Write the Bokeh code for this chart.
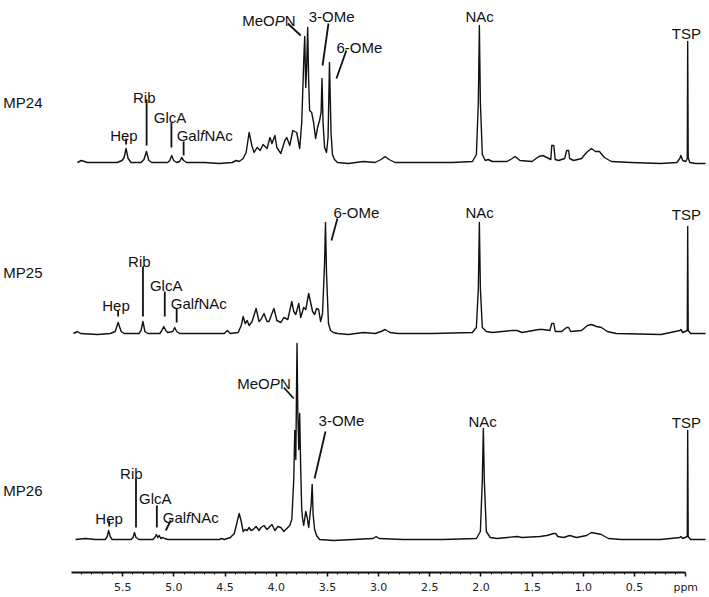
from bokeh.plotting import figure
from bokeh.models import Range1d, FixedTicker, Label, LinearAxis
from bokeh.embed import file_html
from bokeh.resources import INLINE

# ---------------- data ----------------
samples = ["MP24", "MP25", "MP26"]

mp24_ppm = [5.942, 5.903, 5.874, 5.845, 5.670, 5.554, 5.506, 5.486, 5.467, 5.447, 5.418,
            5.321, 5.292, 5.268, 5.244, 5.215, 5.060, 5.040, 5.021, 5.002, 4.973, 4.943,
            4.924, 4.905, 4.876, 4.701, 4.556, 4.430, 4.391, 4.362, 4.323, 4.294, 4.265,
            4.236, 4.216, 4.187, 4.158, 4.129, 4.090, 4.061, 4.042, 4.013, 3.994, 3.955,
            3.916, 3.897, 3.868, 3.838, 3.800, 3.771, 3.751, 3.732, 3.722, 3.712, 3.703,
            3.693, 3.683, 3.674, 3.654, 3.635, 3.616, 3.596, 3.577, 3.562, 3.553, 3.543,
            3.528, 3.509, 3.494, 3.480, 3.465, 3.451, 3.431, 3.402, 3.296, 3.150, 3.034,
            2.976, 2.937, 2.898, 2.840, 2.569, 2.278, 2.084, 2.045, 2.026, 2.016, 2.006,
            1.987, 1.958, 1.929, 1.890, 1.745, 1.696, 1.667, 1.619, 1.502, 1.435, 1.396,
            1.357, 1.318, 1.309, 1.289, 1.275, 1.241, 1.183, 1.163, 1.144, 1.134, 1.095,
            1.018, 0.969, 0.921, 0.882, 0.843, 0.795, 0.727, 0.533, 0.242, 0.087, 0.058,
            0.048, 0.029, 0.000, -0.015, -0.019, -0.024, -0.039, -0.097, -0.194]
mp24_int = [0, 2, 1, 0, 0, 0, 2, 5, 14, 4, 0,
            0, 3, 11, 2, 0, 0, 2, 7, 2, 0, 1,
            5, 2, 0, 0, -1, 0, 2, 1, 4, 10, 30,
            16, 10, 15, 12, 18, 14, 25, 19, 27, 15, 9,
            22, 25, 17, 32, 30, 14, 40, 100, 126, 75, 95,
            135, 80, 52, 50, 40, 24, 35, 42, 50, 84, 40,
            15, 10, 25, 100, 30, 8, 3, 0, -1, 1, 0,
            3, 6, 3, 0, 0, 0, 1, 8, 60, 137, 60,
            8, 2, 3, 1, 1, 4, 6, 2, 1, 6, 7,
            5, 3, 17, 17, 3, 2, 4, 12, 12, 4, 2,
            4, 10, 14, 11, 11, 5, 1, 0, -1, 0, 4,
            7, 2, 1, 4, 121, 5, 0, -1, -1]

mp25_ppm = [5.981, 5.942, 5.913, 5.748, 5.622, 5.573, 5.544, 5.515, 5.486, 5.341, 5.321,
            5.302, 5.283, 5.254, 5.137, 5.118, 5.099, 5.079, 5.060, 5.011, 4.992, 4.973,
            4.943, 4.701, 4.507, 4.478, 4.449, 4.372, 4.342, 4.323, 4.304, 4.284, 4.265,
            4.236, 4.197, 4.168, 4.149, 4.120, 4.090, 4.071, 4.042, 4.023, 3.994, 3.955,
            3.926, 3.887, 3.848, 3.829, 3.809, 3.780, 3.761, 3.732, 3.712, 3.683, 3.664,
            3.645, 3.625, 3.606, 3.586, 3.567, 3.548, 3.528, 3.519, 3.509, 3.490, 3.470,
            3.441, 3.402, 3.296, 3.150, 3.034, 2.976, 2.937, 2.889, 2.811, 2.472, 2.084,
            2.045, 2.026, 2.016, 2.006, 1.987, 1.948, 1.890, 1.696, 1.648, 1.599, 1.435,
            1.396, 1.328, 1.309, 1.289, 1.275, 1.212, 1.163, 1.144, 1.124, 1.018, 0.960,
            0.921, 0.872, 0.824, 0.766, 0.679, 0.242, 0.058, 0.048, 0.029, -0.015, -0.019,
            -0.024, -0.048, -0.194]
mp25_int = [0, 2, 0, -1, 0, 2, 11, 2, 0, 0, 3,
            12, 2, 0, 0, 3, 7, 3, 1, 2, 6, 2,
            0, 0, 0, 3, 0, 1, 8, 17, 10, 13, 8,
            12, 25, 12, 14, 20, 12, 12, 20, 25, 13, 11,
            16, 14, 32, 22, 19, 30, 16, 26, 24, 40, 31,
            22, 19, 25, 24, 12, 20, 70, 111, 60, 10, 3,
            1, 0, -1, 1, 0, 2, 4, 1, 0, 0, 1,
            6, 45, 111, 45, 6, 2, 1, 3, 3, 1, 4,
            4, 3, 10, 10, 2, 2, 6, 6, 2, 3, 8,
            9, 7, 6, 2, 0, -1, 3, 4, 1, 3, 107,
            3, 0, 0]

mp26_ppm = [5.961, 5.864, 5.767, 5.670, 5.651, 5.637, 5.622, 5.603, 5.418, 5.399, 5.385,
            5.370, 5.341, 5.205, 5.186, 5.171, 5.157, 5.142, 5.128, 5.108, 5.089, 5.060,
            4.701, 4.556, 4.536, 4.507, 4.449, 4.410, 4.381, 4.362, 4.342, 4.323, 4.304,
            4.284, 4.265, 4.246, 4.226, 4.197, 4.168, 4.149, 4.120, 4.090, 4.071, 4.042,
            4.013, 3.984, 3.955, 3.926, 3.897, 3.868, 3.848, 3.829, 3.819, 3.809, 3.803,
            3.797, 3.790, 3.780, 3.771, 3.761, 3.751, 3.742, 3.732, 3.712, 3.698, 3.683,
            3.669, 3.659, 3.649, 3.640, 3.625, 3.606, 3.577, 3.441, 3.247, 3.053, 3.024,
            2.995, 2.763, 2.375, 2.045, 2.006, 1.987, 1.977, 1.968, 1.948, 1.910, 1.842,
            1.648, 1.599, 1.425, 1.357, 1.289, 1.270, 1.250, 1.192, 1.134, 1.066, 0.969,
            0.921, 0.872, 0.824, 0.756, 0.630, 0.242, 0.058, 0.048, 0.029, -0.015, -0.019,
            -0.024, -0.048, -0.194]
mp26_int = [0, 1, 0, 0, 3, 9, 3, 0, 0, 2, 7,
            2, 0, 0, 2, 5, 2, 4, 1, 2, 1, 0,
            0, 0, 1, 0, 2, 6, 18, 26, 18, 8, 10,
            9, 12, 9, 10, 13, 9, 12, 14, 10, 12, 15,
            9, 13, 12, 8, 11, 14, 20, 60, 109, 80, 140,
            196, 130, 90, 126, 70, 30, 20, 14, 28, 22, 12,
            26, 35, 55, 25, 10, 4, 0, -1, 0, 1, 3,
            1, 0, 0, 1, 8, 60, 111, 60, 8, 2, 1,
            3, 2, 3, 4, 6, 6, 3, 2, 4, 2, 4,
            7, 6, 5, 1, 0, 0, 2, 3, 1, 3, 109,
            3, 0, 0]

tick_values = [5.5, 5.0, 4.5, 4.0, 3.5, 3.0, 2.5, 2.0, 1.5, 1.0, 0.5, 0.0]
tick_labels = ["5.5", "5.0", "4.5", "4.0", "3.5", "3.0", "2.5", "2.0", "1.5", "1.0", "0.5", "ppm"]

# ---------------- layout ----------------
W, H = 709, 597
LEFT = 66
FRAME_H = 572
PPM_LEFT, PPM_RIGHT = 6.0, -0.232
offsets = {"MP24": 410, "MP25": 239, "MP26": 33}
name_y = {"MP24": 470, "MP25": 300, "MP26": 82}
INK = "#111111"
FONT = "Liberation Sans"
FS = "15px"


def X(img_x):
    return PPM_LEFT - (img_x - LEFT) * (PPM_LEFT - PPM_RIGHT) / (W - LEFT)


def Y(img_y):
    return FRAME_H - img_y


p = figure(width=W, height=H, output_backend="svg", toolbar_location=None,
           x_range=Range1d(PPM_LEFT, PPM_RIGHT), y_range=Range1d(0, FRAME_H),
           y_axis_location=None, min_border_left=LEFT, min_border_right=0,
           min_border_top=0, min_border_bottom=H - FRAME_H)
p.outline_line_color = None
p.grid.visible = False
p.background_fill_color = "white"
p.border_fill_color = "white"

series = {"MP24": (mp24_ppm, mp24_int), "MP25": (mp25_ppm, mp25_int), "MP26": (mp26_ppm, mp26_int)}
for name in samples:
    ppm, inten = series[name]
    p.line(ppm, [v + offsets[name] for v in inten], line_color=INK, line_width=1.4,
           line_join="round")

# x axis
ax = p.xaxis[0]
ax.ticker = FixedTicker(ticks=tick_values, minor_ticks=[round(0.1 * i, 1) for i in range(1, 60)])
ax.major_label_overrides = dict(zip(tick_values, tick_labels))
ax.bounds = (0, PPM_LEFT)
ax.axis_line_width = 1.8
ax.axis_line_color = INK
ax.major_tick_out = 4
ax.major_tick_in = 0
ax.minor_tick_out = 2
ax.minor_tick_in = 0
ax.major_tick_line_color = INK
ax.minor_tick_line_color = INK
ax.major_tick_line_width = 1.5
ax.minor_tick_line_width = 1
ax.major_label_standoff = 4
ax.major_label_text_font = "DejaVu Sans"
ax.major_label_text_font_size = "11px"
ax.major_label_text_color = "#222222"

# sample names on a bare left axis
yax = LinearAxis(ticker=FixedTicker(ticks=[name_y[n] for n in samples]),
                 major_label_overrides={name_y[n]: n for n in samples})
yax.axis_line_color = None
yax.major_tick_line_color = None
yax.minor_tick_line_color = None
yax.major_label_standoff = 23
yax.major_label_orientation = "horizontal"
yax.major_label_text_font = FONT
yax.major_label_text_font_size = FS
yax.major_label_text_color = INK
p.add_layout(yax, "left")


# peak annotations: (pieces, left img x, baseline img y); pieces = [(text, italic, width_px)]
def lab(parts, x, y):
    off = 0.0
    for t, it, w in parts:
        p.add_layout(Label(x=X(x), y=Y(y), x_offset=off, text=t, text_font=FONT,
                           text_font_size=FS, text_color=INK, text_align="left",
                           text_baseline="alphabetic",
                           text_font_style="italic" if it else "normal"))
        off += w


GAL = [("Gal", False, 23.3), ("f", True, 4.4), ("NAc", False, 28.3)]
MEO = [("MeO", False, 32.5), ("P", True, 10.2), ("N", False, 10.8)]
S = lambda t: [(t, False, 0)]

labels = [
    (S("Hep"), 105, 135), (S("Rib"), 128, 97), (S("GlcA"), 149, 117), (GAL, 172, 135),
    (MEO, 238, 20), (S("3-OMe"), 305, 16), (S("6-OMe"), 333, 47), (S("NAc"), 463, 16),
    (S("TSP"), 671, 33),
    (S("Hep"), 97, 305), (S("Rib"), 123, 261), (S("GlcA"), 145, 285), (GAL, 166, 303),
    (S("6-OMe"), 330, 212), (S("NAc"), 463, 212), (S("TSP"), 671, 214),
    (S("Hep"), 90, 518), (S("Rib"), 115, 473), (S("GlcA"), 134, 498), (GAL, 158, 517),
    (MEO, 233, 383), (S("3-OMe"), 315, 420), (S("NAc"), 466, 421), (S("TSP"), 671, 422),
]
for parts, x, y in labels:
    lab(parts, x, y)

leaders = [
    (121, 138, 121, 144), (141.7, 99, 141.7, 145), (166.7, 122, 166.7, 147), (179, 141, 179, 155),
    (284, 23, 297, 35), (325, 23, 319, 65), (343, 50, 333, 78),
    (113, 310, 113, 316), (138, 266, 138, 316), (160, 291, 160, 316), (172, 308, 172, 322),
    (334, 218, 328, 240),
    (104, 520, 104, 526), (131, 478, 131, 527), (152, 505, 152, 527), (166, 520, 161, 530),
    (280, 387, 290, 398), (322, 431, 311, 478),
]
p.segment([X(a[0]) for a in leaders], [Y(a[1]) for a in leaders],
          [X(a[2]) for a in leaders], [Y(a[3]) for a in leaders],
          line_color=INK, line_width=1.8)

open("out.html", "w").write(file_html(p, INLINE))
